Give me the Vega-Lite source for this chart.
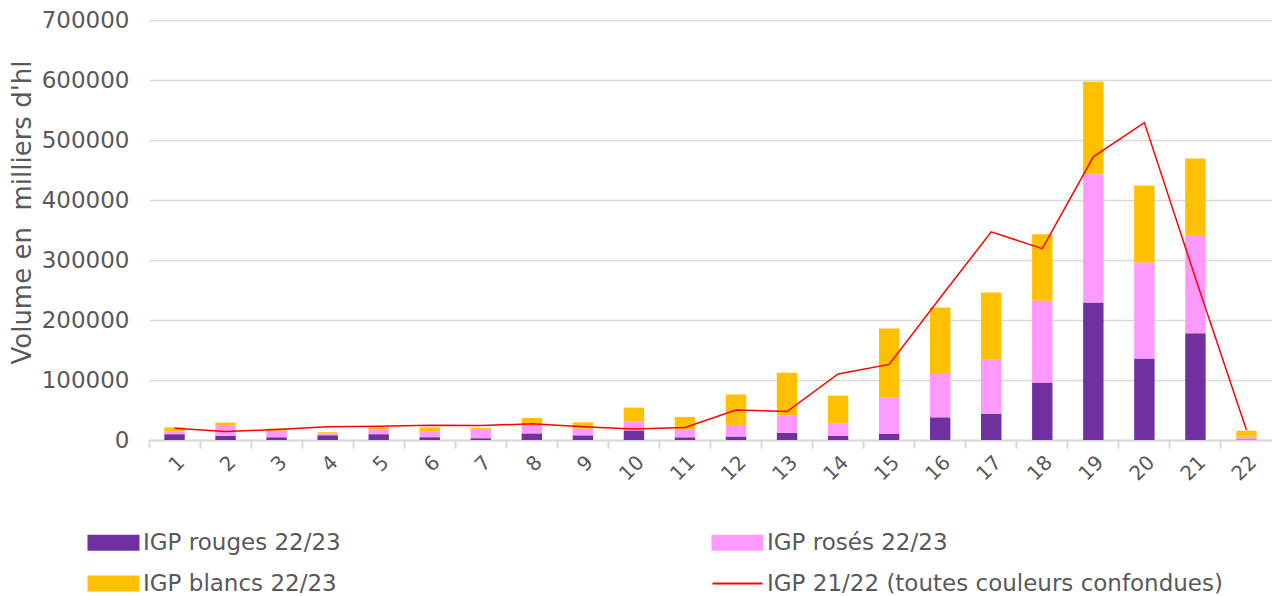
{
  "$schema": "https://vega.github.io/schema/vega-lite/v6.json",
  "width": 1123,
  "height": 420,
  "autosize": {"type": "none"},
  "padding": {"left": 149, "top": 20, "right": 0, "bottom": 156},
  "background": "white",
  "config": {"view": {"stroke": null}, "font": "DejaVu Sans"},
  "datasets": {
    "bars": [
      {"semaine": 1, "type": "IGP rouges 22/23", "volume": 9700},
      {"semaine": 1, "type": "IGP rosés 22/23", "volume": 4300},
      {"semaine": 1, "type": "IGP blancs 22/23", "volume": 7000},
      {"semaine": 2, "type": "IGP rouges 22/23", "volume": 7000},
      {"semaine": 2, "type": "IGP rosés 22/23", "volume": 17700},
      {"semaine": 2, "type": "IGP blancs 22/23", "volume": 4300},
      {"semaine": 3, "type": "IGP rouges 22/23", "volume": 4700},
      {"semaine": 3, "type": "IGP rosés 22/23", "volume": 11300},
      {"semaine": 3, "type": "IGP blancs 22/23", "volume": 3000},
      {"semaine": 4, "type": "IGP rouges 22/23", "volume": 8000},
      {"semaine": 4, "type": "IGP rosés 22/23", "volume": 3000},
      {"semaine": 4, "type": "IGP blancs 22/23", "volume": 2000},
      {"semaine": 5, "type": "IGP rouges 22/23", "volume": 9700},
      {"semaine": 5, "type": "IGP rosés 22/23", "volume": 7300},
      {"semaine": 5, "type": "IGP blancs 22/23", "volume": 4000},
      {"semaine": 6, "type": "IGP rouges 22/23", "volume": 4700},
      {"semaine": 6, "type": "IGP rosés 22/23", "volume": 10000},
      {"semaine": 6, "type": "IGP blancs 22/23", "volume": 6300},
      {"semaine": 7, "type": "IGP rouges 22/23", "volume": 3000},
      {"semaine": 7, "type": "IGP rosés 22/23", "volume": 14000},
      {"semaine": 7, "type": "IGP blancs 22/23", "volume": 3000},
      {"semaine": 8, "type": "IGP rouges 22/23", "volume": 11000},
      {"semaine": 8, "type": "IGP rosés 22/23", "volume": 12500},
      {"semaine": 8, "type": "IGP blancs 22/23", "volume": 13300},
      {"semaine": 9, "type": "IGP rouges 22/23", "volume": 7800},
      {"semaine": 9, "type": "IGP rosés 22/23", "volume": 11200},
      {"semaine": 9, "type": "IGP blancs 22/23", "volume": 10500},
      {"semaine": 10, "type": "IGP rouges 22/23", "volume": 16000},
      {"semaine": 10, "type": "IGP rosés 22/23", "volume": 14800},
      {"semaine": 10, "type": "IGP blancs 22/23", "volume": 23200},
      {"semaine": 11, "type": "IGP rouges 22/23", "volume": 4500},
      {"semaine": 11, "type": "IGP rosés 22/23", "volume": 13500},
      {"semaine": 11, "type": "IGP blancs 22/23", "volume": 20500},
      {"semaine": 12, "type": "IGP rouges 22/23", "volume": 5800},
      {"semaine": 12, "type": "IGP rosés 22/23", "volume": 19200},
      {"semaine": 12, "type": "IGP blancs 22/23", "volume": 51000},
      {"semaine": 13, "type": "IGP rouges 22/23", "volume": 12000},
      {"semaine": 13, "type": "IGP rosés 22/23", "volume": 29000},
      {"semaine": 13, "type": "IGP blancs 22/23", "volume": 71000},
      {"semaine": 14, "type": "IGP rouges 22/23", "volume": 6700},
      {"semaine": 14, "type": "IGP rosés 22/23", "volume": 20800},
      {"semaine": 14, "type": "IGP blancs 22/23", "volume": 46500},
      {"semaine": 15, "type": "IGP rouges 22/23", "volume": 10000},
      {"semaine": 15, "type": "IGP rosés 22/23", "volume": 61000},
      {"semaine": 15, "type": "IGP blancs 22/23", "volume": 115000},
      {"semaine": 16, "type": "IGP rouges 22/23", "volume": 37800},
      {"semaine": 16, "type": "IGP rosés 22/23", "volume": 72200},
      {"semaine": 16, "type": "IGP blancs 22/23", "volume": 111000},
      {"semaine": 17, "type": "IGP rouges 22/23", "volume": 44000},
      {"semaine": 17, "type": "IGP rosés 22/23", "volume": 89800},
      {"semaine": 17, "type": "IGP blancs 22/23", "volume": 112200},
      {"semaine": 18, "type": "IGP rouges 22/23", "volume": 95800},
      {"semaine": 18, "type": "IGP rosés 22/23", "volume": 136200},
      {"semaine": 18, "type": "IGP blancs 22/23", "volume": 111000},
      {"semaine": 19, "type": "IGP rouges 22/23", "volume": 229000},
      {"semaine": 19, "type": "IGP rosés 22/23", "volume": 214000},
      {"semaine": 19, "type": "IGP blancs 22/23", "volume": 154000},
      {"semaine": 20, "type": "IGP rouges 22/23", "volume": 136000},
      {"semaine": 20, "type": "IGP rosés 22/23", "volume": 160000},
      {"semaine": 20, "type": "IGP blancs 22/23", "volume": 128000},
      {"semaine": 21, "type": "IGP rouges 22/23", "volume": 178000},
      {"semaine": 21, "type": "IGP rosés 22/23", "volume": 163500},
      {"semaine": 21, "type": "IGP blancs 22/23", "volume": 127500},
      {"semaine": 22, "type": "IGP rouges 22/23", "volume": 1000},
      {"semaine": 22, "type": "IGP rosés 22/23", "volume": 4500},
      {"semaine": 22, "type": "IGP blancs 22/23", "volume": 10000}
    ],
    "line": [
      {"semaine": 1, "volume": 19500},
      {"semaine": 2, "volume": 14000},
      {"semaine": 3, "volume": 17500},
      {"semaine": 4, "volume": 22000},
      {"semaine": 5, "volume": 23000},
      {"semaine": 6, "volume": 24500},
      {"semaine": 7, "volume": 24000},
      {"semaine": 8, "volume": 27000},
      {"semaine": 9, "volume": 22000},
      {"semaine": 10, "volume": 18500},
      {"semaine": 11, "volume": 21000},
      {"semaine": 12, "volume": 50000},
      {"semaine": 13, "volume": 47500},
      {"semaine": 14, "volume": 110000},
      {"semaine": 15, "volume": 126000},
      {"semaine": 16, "volume": 237000},
      {"semaine": 17, "volume": 347000},
      {"semaine": 18, "volume": 319000},
      {"semaine": 19, "volume": 472000},
      {"semaine": 20, "volume": 529000},
      {"semaine": 21, "volume": 270000},
      {"semaine": 22, "volume": 16500}
    ]
  },
  "encoding": {
    "x": {
      "field": "semaine",
      "type": "ordinal",
      "scale": {"paddingInner": 0, "paddingOuter": 0},
      "axis": {
        "title": null,
        "bandPosition": 0,
        "labelAngle": -45,
        "labelFontSize": 20,
        "labelColor": "#595959",
        "labelPadding": 4,
        "ticks": true,
        "tickSize": 8,
        "tickColor": "#d9d9d9",
        "tickWidth": 2,
        "domain": true,
        "domainColor": "#d9d9d9",
        "domainWidth": 2,
        "grid": false
      }
    }
  },
  "layer": [
    {
      "data": {"name": "bars"},
      "mark": {"type": "bar", "width": {"band": 0.4}},
      "encoding": {
        "y": {
          "field": "volume",
          "type": "quantitative",
          "stack": "zero",
          "scale": {"domain": [0, 700000], "nice": false},
          "axis": {
            "title": "Volume en\u00a0 milliers d'hl",
            "titleFontSize": 26,
            "titleFontWeight": "normal",
            "titleColor": "#595959",
            "titlePadding": 6,
            "titleY": 192,
            "values": [0, 100000, 200000, 300000, 400000, 500000, 600000, 700000],
            "format": "d",
            "labelFontSize": 23,
            "labelColor": "#595959",
            "labelPadding": 20,
            "ticks": false,
            "domain": false,
            "grid": true,
            "gridColor": "#d9d9d9",
            "gridWidth": 1.5
          }
        },
        "color": {
          "field": "type",
          "type": "nominal",
          "scale": {
            "domain": ["IGP rouges 22/23", "IGP rosés 22/23", "IGP blancs 22/23", "IGP 21/22 (toutes couleurs confondues)"],
            "range": ["#7030A0", "#FF99FF", "#FFC000", "#FF0000"]
          },
          "legend": {
            "title": null,
            "orient": "none",
            "legendX": -47,
            "legendY": 511,
            "direction": "horizontal",
            "columns": 2,
            "columnPadding": 367,
            "rowPadding": 17,
            "padding": 0,
            "symbolSize": 400,
            "labelOffset": 18,
            "labelFontSize": 23,
            "labelColor": "#595959",
            "labelLimit": 700,
            "encode": {
              "symbols": {
                "update": {
                  "shape": {"signal": "datum.value === 'IGP 21/22 (toutes couleurs confondues)' ? 'M-2.5,0H2.5' : 'M-2.5,-0.7H2.5V0.7H-2.5Z'"},
                  "fill": {"signal": "datum.value === 'IGP 21/22 (toutes couleurs confondues)' ? 'transparent' : scale('color', datum.value)"},
                  "stroke": {"signal": "datum.value === 'IGP 21/22 (toutes couleurs confondues)' ? '#FF0000' : 'transparent'"},
                  "strokeWidth": {"value": 2},
                  "opacity": {"value": 1}
                }
              }
            }
          }
        },
        "order": {"field": "type", "sort": "descending"}
      }
    },
    {
      "data": {"name": "line"},
      "mark": {"type": "line", "strokeWidth": 1.5},
      "encoding": {
        "y": {"field": "volume", "type": "quantitative"},
        "color": {"datum": "IGP 21/22 (toutes couleurs confondues)", "type": "nominal"}
      }
    }
  ]
}
